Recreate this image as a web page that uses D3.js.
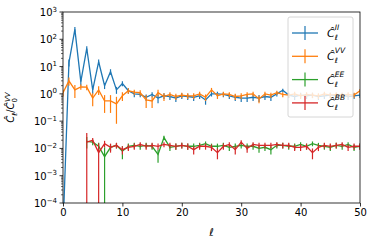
<!DOCTYPE html>
<html>
<head>
<meta charset="utf-8">
<script src="https://cdn.jsdelivr.net/npm/d3@7"></script>
<style>
  body { margin: 0; background: #fff; }
  svg text { font-family: "DejaVu Sans", sans-serif; fill: #000; }
</style>
</head>
<body>
<div id="chart"></div>
<script>
// multipole index
const ells = d3.range(0, 51);

// spectra normalised by C_0^VV (null = not measured)
const clII = [1e-5, 14, 230, 2.8, 46, 1.4, 15, 2.0, 6.5, 1.4, 2.4, 1.3, 1.0, 0.95, 0.75, 0.95, 0.7, 0.85, 0.8, 0.7,
  0.85, 0.8, 0.75, 0.85, 0.6, 1.0, 1.0, 0.95, 0.85, 0.75, 0.7, 0.7, 0.75, 0.7, 0.8, 0.75, 1.0, 1.35, 0.9, 0.8,
  0.9, 0.85, 0.9, 0.8, 0.85, 0.9, 0.85, 0.9, 0.8, 0.85, 0.9];
const errII = [0, 4, 50, 0.8, 10, 0.4, 3, 0.5, 1.5, 0.4, 0.5, 0.3, 0.25, 0.2, 0.2, 0.2, 0.25, 0.2, 0.2, 0.2,
  0.2, 0.2, 0.2, 0.2, 0.2, 0.2, 0.2, 0.2, 0.2, 0.2, 0.2, 0.2, 0.2, 0.2, 0.2, 0.2, 0.2, 0.2, 0.2, 0.2,
  0.2, 0.2, 0.2, 0.2, 0.2, 0.2, 0.2, 0.2, 0.2, 0.2, 0.2];

const clVV = [1.1, 3.0, 1.4, 1.8, 1.75, 0.7, 1.4, 0.55, 0.55, 0.43, 0.85, 1.3, 1.15, 1.1, 0.6, 0.55, 1.1, 0.8, 0.95, 0.8,
  0.9, 0.85, 0.85, 1.0, 0.75, 1.4, 0.85, 1.0, 0.95, 0.8, 0.85, 0.95, 1.0, 0.65, 1.0, 0.9, 1.1, 0.95, 0.9, 1.0,
  0.85, 0.95, 0.9, 0.85, 1.0, 0.9, 0.95, 0.9, 0.95, 0.9, 1.3];
const errVV = [0.3, 1.0, 0.7, 0.4, 0.4, 0.35, 0.5, 0.35, 0.35, 0.35, 0.3, 0.3, 0.25, 0.25, 0.3, 0.25, 0.3, 0.25, 0.2, 0.2,
  0.2, 0.2, 0.2, 0.2, 0.2, 0.25, 0.2, 0.2, 0.2, 0.2, 0.2, 0.2, 0.2, 0.2, 0.2, 0.2, 0.2, 0.2, 0.2, 0.2,
  0.2, 0.2, 0.2, 0.2, 0.2, 0.2, 0.2, 0.2, 0.2, 0.2, 0.2];

const clEE = [null, null, null, null, 0.018, 0.017, 0.012, 0.005, 0.011, 0.013, 0.008, 0.012, 0.013, 0.012, 0.013, 0.012,
  0.006, 0.025, 0.011, 0.012, 0.013, 0.012, 0.012, 0.013, 0.015, 0.012, 0.012, 0.013, 0.011, 0.012, 0.013, 0.012,
  0.012, 0.010, 0.011, 0.009, 0.013, 0.013, 0.012, 0.012, 0.014, 0.012, 0.015, 0.013, 0.012, 0.011, 0.013, 0.012,
  0.014, 0.011, 0.012];
const errEE = [0, 0, 0, 0, 0.008, 0.004, 0.004, 0.006, 0.003, 0.003, 0.004, 0.003, 0.003, 0.003, 0.003, 0.003,
  0.003, 0.004, 0.003, 0.003, 0.003, 0.003, 0.003, 0.003, 0.003, 0.003, 0.003, 0.003, 0.003, 0.003, 0.003, 0.003,
  0.003, 0.003, 0.003, 0.003, 0.003, 0.003, 0.003, 0.003, 0.003, 0.003, 0.003, 0.003, 0.003, 0.003, 0.003, 0.003,
  0.003, 0.003, 0.003];

const clBB = [null, null, null, null, 0.017, 0.020, 0.007, 0.015, 0.011, 0.013, 0.009, 0.011, 0.012, 0.014, 0.012, 0.013,
  0.012, 0.014, 0.013, 0.012, 0.013, 0.012, 0.009, 0.012, 0.012, 0.011, 0.007, 0.012, 0.014, 0.009, 0.017, 0.010,
  0.014, 0.013, 0.013, 0.013, 0.014, 0.013, 0.013, 0.011, 0.011, 0.012, 0.007, 0.011, 0.013, 0.012, 0.013, 0.014,
  0.011, 0.012, 0.012];
const errBB = [0, 0, 0, 0, 0.02, 0.004, 0.008, 0.004, 0.004, 0.003, 0.003, 0.003, 0.003, 0.003, 0.003, 0.003,
  0.003, 0.003, 0.003, 0.003, 0.003, 0.003, 0.003, 0.003, 0.003, 0.003, 0.003, 0.003, 0.003, 0.003, 0.003, 0.003,
  0.003, 0.003, 0.003, 0.003, 0.003, 0.003, 0.003, 0.003, 0.003, 0.003, 0.003, 0.003, 0.003, 0.003, 0.003, 0.003,
  0.003, 0.003, 0.003];

const seriesNames = ["II", "VV", "EE", "BB"];
const seriesColors = ["#1f77b4", "#ff7f0e", "#2ca02c", "#d62728"];
const seriesValues = [clII, clVV, clEE, clBB];
const seriesErrors = [errII, errVV, errEE, errBB];

const xTicks = [0, 10, 20, 30, 40, 50];
const yExponents = [-4, -3, -2, -1, 0, 1, 2, 3];

const width = 374, height = 244;
const margin = { top: 12, right: 14, bottom: 41, left: 63 };

const svg = d3.select("#chart").append("svg")
  .attr("width", width).attr("height", height);

const x = d3.scaleLinear().domain([0, 50]).range([margin.left, width - margin.right]);
const y = d3.scaleLog().domain([1e-4, 1e3]).range([height - margin.bottom, margin.top]).clamp(false);

svg.append("defs").append("clipPath").attr("id", "plotClip")
  .append("rect")
  .attr("x", margin.left).attr("y", margin.top)
  .attr("width", x(50) - x(0)).attr("height", y(1e-4) - y(1e3));

const plot = svg.append("g").attr("clip-path", "url(#plotClip)");

// y position with non-positive values sent far below the axes
const ySafe = v => v > 0 ? y(v) : y(1e-4) + 100;

seriesValues.forEach((vals, s) => {
  const pts = ells.map((l, i) => ({ l, v: vals[i], e: seriesErrors[s][i] }))
    .filter(d => d.v !== null);
  const g = plot.append("g");
  // error bars
  g.selectAll("line.err").data(pts).join("line")
    .attr("class", "err")
    .attr("x1", d => x(d.l)).attr("x2", d => x(d.l))
    .attr("y1", d => ySafe(d.v - d.e)).attr("y2", d => ySafe(d.v + d.e))
    .attr("stroke", seriesColors[s]).attr("stroke-width", 1.2);
  g.append("path").datum(pts)
    .attr("d", d3.line().x(d => x(d.l)).y(d => ySafe(d.v)))
    .attr("fill", "none").attr("stroke", seriesColors[s]).attr("stroke-width", 1.3);
});

// axes frame
svg.append("rect")
  .attr("x", margin.left).attr("y", margin.top)
  .attr("width", x(50) - x(0)).attr("height", y(1e-4) - y(1e3))
  .attr("fill", "none").attr("stroke", "#000").attr("stroke-width", 0.8);

// x axis
const xAxis = svg.append("g").attr("transform", `translate(0,${y(1e-4)})`)
  .call(d3.axisBottom(x).tickValues(xTicks).tickSize(3.5).tickPadding(2.5).tickFormat(d3.format("d")));
xAxis.select(".domain").remove();
xAxis.selectAll("line").attr("stroke-width", 0.8);
xAxis.selectAll("text").attr("font-size", 10).attr("font-family", "DejaVu Sans");

// y axis, major and minor ticks
const minor = [];
yExponents.slice(0, -1).forEach(e => { for (let k = 2; k < 10; k++) minor.push(k * Math.pow(10, e)); });
svg.append("g").selectAll("line").data(minor).join("line")
  .attr("x1", margin.left - 2).attr("x2", margin.left)
  .attr("y1", d => y(d)).attr("y2", d => y(d))
  .attr("stroke", "#000").attr("stroke-width", 0.6);

const yAxis = svg.append("g");
yAxis.selectAll("line").data(yExponents).join("line")
  .attr("x1", margin.left - 3.5).attr("x2", margin.left)
  .attr("y1", e => y(Math.pow(10, e))).attr("y2", e => y(Math.pow(10, e)))
  .attr("stroke", "#000").attr("stroke-width", 0.8);

const yLab = yAxis.selectAll("text").data(yExponents).join("text")
  .attr("x", margin.left - 6).attr("y", e => y(Math.pow(10, e)) + 4)
  .attr("text-anchor", "end").attr("font-size", 10);
yLab.append("tspan").text("10");
yLab.append("tspan").attr("dy", -4.5).attr("font-size", 7).text(e => e < 0 ? "\u2212" + (-e) : e);

// x label
svg.append("text")
  .attr("x", (x(0) + x(50)) / 2).attr("y", 236)
  .attr("text-anchor", "middle").attr("font-size", 11).attr("font-style", "italic").text("\u2113");

// y label
const yl = svg.append("text")
  .attr("transform", `translate(14,${(y(1e-4) + y(1e3)) / 2}) rotate(-90)`)
  .attr("text-anchor", "middle").attr("font-size", 10).attr("font-style", "italic");
yl.append("tspan").text("C\u0302");
yl.append("tspan").attr("dy", 2.5).attr("font-size", 7).text("\u2113");
yl.append("tspan").attr("dy", -2.5).attr("font-style", "normal").text("/");
yl.append("tspan").text("C\u0302");
yl.append("tspan").attr("dy", 2.5).attr("font-size", 7).attr("font-style", "normal").text("0");
yl.append("tspan").attr("dx", -4).attr("dy", -7).attr("font-size", 7).text("VV");

// legend
const lg = svg.append("g").attr("transform", "translate(288,17)");
lg.append("rect").attr("width", 65).attr("height", 100).attr("rx", 2)
  .attr("fill", "#fff").attr("fill-opacity", 0.8).attr("stroke", "#ccc").attr("stroke-width", 0.8);
seriesNames.forEach((name, i) => {
  const cy = 16 + i * 23.3;
  lg.append("line").attr("x1", 4).attr("x2", 30).attr("y1", cy).attr("y2", cy)
    .attr("stroke", seriesColors[i]).attr("stroke-width", 1.3);
  lg.append("line").attr("x1", 17).attr("x2", 17).attr("y1", cy - 7).attr("y2", cy + 7)
    .attr("stroke", seriesColors[i]).attr("stroke-width", 1.2);
  const t = lg.append("text").attr("x", 39).attr("y", cy + 4)
    .attr("font-size", 11).attr("font-style", "italic");
  t.append("tspan").text("C\u0302");
  t.append("tspan").attr("dy", 3).attr("font-size", 7.5).text("\u2113");
  t.append("tspan").attr("dx", -3).attr("dy", -10).attr("font-size", 7.5).text(name);
});
</script>
</body>
</html>
